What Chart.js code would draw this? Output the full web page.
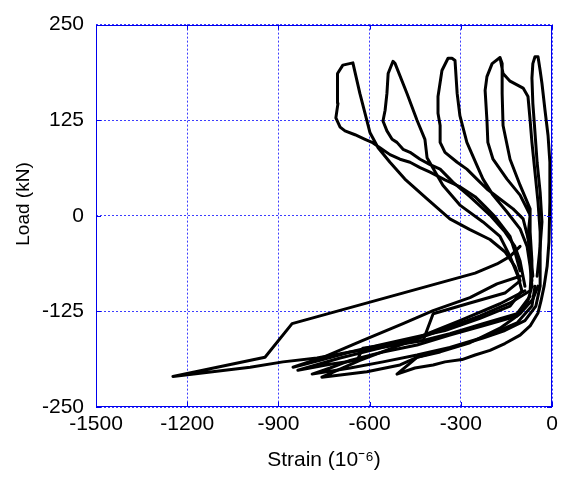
<!DOCTYPE html>
<html><head><meta charset="utf-8">
<script src="https://cdn.jsdelivr.net/npm/chart.js@4.4.0/dist/chart.umd.min.js"></script>
<style>html,body{margin:0;padding:0;background:#fff}canvas{display:block}</style>
</head><body>
<canvas id="c" width="564" height="477"></canvas>
<script>
const xTickValues = [-1500, -1200, -900, -600, -300, 0];
const yTickValues = [-250, -125, 0, 125, 250];
const xTitle = 'Strain (10\u207B\u2076)';
const yTitle = 'Load (kN)';

const strain1 = [-49,-39,-33,-39,-49,-56,-63,-66,-63,-56,-46,-39,-33,-23,-13,-7,-7,-10,-16,-26,-36,-46,-72,-105,-155,-204,-253,-296,-352,-391,-451,-510,-444,-368,-270,-171,-105,-63,-46];
const load1   = [-79,-40,-8,31,70,109,147,180,199,208,208,190,173,138,105,70,18,-34,-66,-92,-111,-127,-144,-156,-167,-176,-182,-188,-191,-195,-199,-207,-185,-178,-166,-147,-128,-109,-92];

const strain2 = [-66,-72,-79,-72,-105,-148,-194,-211,-214,-220,-214,-197,-171,-161,-138,-95,-79,-72,-66,-56,-46,-39,-39,-39,-53,-89,-155,-227,-336,-444,-500,-609,-757,-632,-500,-368,-237,-138,-72,-66,-72,-72,-105,-138,-161,-164,-164,-171];
const load2   = [-85,-53,-27,1,27,48,74,96,125,164,182,199,207,186,176,167,156,125,96,57,18,-21,-59,-92,-118,-137,-150,-160,-173,-185,-195,-204,-211,-189,-169,-150,-131,-114,-98,-59,-21,9,40,74,118,160,199,207];

const strain3 = [-63,-72,-95,-128,-171,-214,-247,-280,-312,-352,-368,-368,-375,-375,-362,-342,-329,-319,-312,-303,-280,-247,-227,-194,-148,-105,-82,-72,-66,-79,-115,-227,-336,-444,-556,-664,-730,-789,-664,-556,-444,-336,-227,-115,-66,-56];
const load3   = [-79,-40,-4,9,22,35,48,61,70,83,96,118,134,156,190,206,206,203,160,131,96,66,48,27,5,-17,-40,-66,-92,-111,-131,-144,-156,-169,-178,-189,-199,-207,-199,-191,-182,-172,-159,-140,-118,-92];

const strain4 = [-89,-105,-122,-155,-204,-270,-326,-368,-401,-434,-467,-490,-510,-526,-543,-556,-549,-543,-539,-523,-516,-477,-444,-418,-411,-359,-303,-227,-171,-138,-112,-99,-138,-237,-352,-467,-566,-664,-763,-852,-753,-622,-490,-391,-270,-181,-105];
const load4   = [-92,-59,-40,-21,1,25,44,61,67,74,83,87,96,100,111,124,138,160,186,202,199,160,125,100,76,40,14,-8,-27,-53,-79,-98,-118,-134,-150,-160,-169,-178,-189,-198,-185,-163,-141,-124,-107,-89,-79];

const strain5 = [-105,-122,-138,-188,-220,-253,-303,-352,-401,-434,-467,-500,-533,-566,-592,-615,-648,-681,-697,-711,-704,-707,-704,-688,-655,-632,-615,-599,-572,-533,-484,-411,-336,-270,-204,-155,-122,-105,-155,-270,-391,-424,-533,-622,-641,-730,-836,-697,-566,-434,-303,-171,-89];
const load5   = [-72,-47,-27,-1,12,25,38,47,57,63,70,74,80,89,96,100,106,111,116,128,147,167,186,197,200,160,134,109,89,70,48,22,-4,-18,-31,-47,-66,-85,-101,-114,-128,-163,-168,-173,-189,-194,-202,-186,-173,-158,-137,-115,-98];

const strain6 = [-72,-115,-227,-336,-424,-556,-664,-773,-885,-993,-1247,-944,-855,-253,-181,-138,-105];
const load6   = [-105,-128,-141,-154,-163,-172,-178,-186,-191,-198,-210,-185,-141,-75,-63,-53,-40];

const cycles = [[strain1,load1],[strain2,load2],[strain3,load3],[strain4,load4],[strain5,load5],[strain6,load6]];
const FONT = '"Liberation Sans", Arial, Helvetica, sans-serif';

const datasets = cycles.map(([s, l], k) => ({
  label: 'Cycle ' + (k + 1),
  data: s.map((v, i) => ({x: v, y: l[i]})),
  borderColor: '#000',
  borderWidth: 3,
  pointRadius: 0,
  showLine: true,
  fill: false,
  tension: 0,
  borderJoinStyle: 'round',
  borderCapStyle: 'round'
}));

const frame = {
  id: 'frame',
  afterDraw(chart) {
    const {ctx, chartArea: a, scales: {x, y}} = chart;
    ctx.save();
    ctx.strokeStyle = '#0000ee';
    ctx.lineWidth = 1;
    ctx.setLineDash([]);
    ctx.strokeRect(Math.round(a.left) + 0.5, Math.round(a.top) + 0.5, Math.round(a.right - a.left) - 1, Math.round(a.bottom - a.top) - 1);
    ctx.beginPath();
    xTickValues.forEach(v => {
      const px = Math.round(x.getPixelForValue(v)) + 0.5;
      ctx.moveTo(px, a.bottom); ctx.lineTo(px, a.bottom - 5);
      ctx.moveTo(px, a.top); ctx.lineTo(px, a.top + 5);
    });
    yTickValues.forEach(v => {
      const py = Math.round(y.getPixelForValue(v)) + 0.5;
      ctx.moveTo(a.left, py); ctx.lineTo(a.left + 5, py);
      ctx.moveTo(a.right, py); ctx.lineTo(a.right - 5, py);
    });
    ctx.stroke();
    ctx.fillStyle = '#000';
    ctx.font = '19px ' + FONT;
    ctx.translate(24, 204);
    ctx.rotate(-Math.PI / 2);
    ctx.textAlign = 'center';
    ctx.textBaseline = 'middle';
    ctx.fillText(yTitle, 0, 0);
    ctx.restore();
  }
};

new Chart(document.getElementById('c'), {
  type: 'scatter',
  data: {datasets},
  options: {
    responsive: false,
    devicePixelRatio: 1,
    animation: false,
    layout: {padding: {top: 21, right: 12, left: 0, bottom: 0}},
    plugins: {legend: {display: false}, tooltip: {enabled: false}},
    scales: {
      x: {
        type: 'linear', min: -1500, max: 0,
        afterBuildTicks(s) { s.ticks = xTickValues.map(v => ({value: v})); },
        afterFit(s) { s.height = 70; },
        ticks: {color: '#000', font: {size: 21, family: FONT}, padding: 5, maxRotation: 0, autoSkip: false, callback: v => String(v)},
        grid: {color: '#3c3cff', lineWidth: 1, drawTicks: false},
        border: {display: false, dash: [2, 2]},
        title: {display: true, text: xTitle, color: '#000', font: {size: 21, family: FONT}, padding: {top: 0, bottom: 4}}
      },
      y: {
        type: 'linear', min: -250, max: 250,
        afterBuildTicks(s) { s.ticks = yTickValues.map(v => ({value: v})); },
        afterFit(s) { s.width = 96; },
        ticks: {color: '#000', font: {size: 21, family: FONT}, padding: 12, autoSkip: false, callback: v => String(v)},
        grid: {color: '#3c3cff', lineWidth: 1, drawTicks: false},
        border: {display: false, dash: [2, 2]},
        title: {display: false}
      }
    }
  },
  plugins: [frame]
});
</script>
</body></html>
